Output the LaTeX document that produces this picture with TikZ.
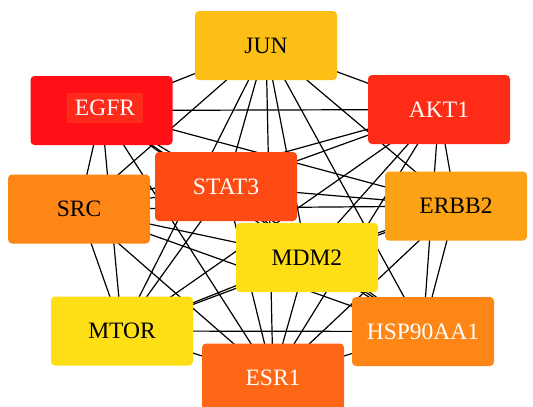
\documentclass[tikz,border=0pt]{standalone}
\usepackage{fontspec}
\setmainfont{Liberation Serif}
\usepackage{tikz}
\usetikzlibrary{backgrounds}

\definecolor{cJUN}{HTML}{FDBF16}
\definecolor{cEGFR}{HTML}{FE1016}
\definecolor{cEGFRtxt}{HTML}{FF2A1A}
\definecolor{cAKT}{HTML}{FE2C16}
\definecolor{cSTAT}{HTML}{FE4B14}
\definecolor{cSRC}{HTML}{FD8616}
\definecolor{cERBB}{HTML}{FDA214}
\definecolor{cMDM}{HTML}{FEDE15}
\definecolor{cHSP}{HTML}{FD8617}
\definecolor{cESR}{HTML}{FE6716}

\begin{document}
\begin{tikzpicture}[
  x=1pt, y=-1pt,
  gene/.style={rounded corners=4pt, minimum width=142pt, minimum height=69pt,
    inner sep=0pt, font=\fontsize{23.5}{28}\selectfont},
  link/.style={line width=1.2pt, black}
]
\useasboundingbox (0,0) rectangle (533,407);

\node[gene, fill=cJUN] (jun) at (266,45.5) {JUN};
\node[gene, fill=cEGFR] (egfr) at (101.5,110.5) {};
\node[fill=cEGFRtxt, text=white, inner sep=0pt, minimum width=76pt, minimum height=30pt,
  font=\fontsize{23.5}{28}\selectfont] (egfrtxt) at (105,108) {EGFR};
\node[gene, fill=cAKT, text=white] (akt1) at (439,109.5) {AKT1};
\node[gene, fill=cSTAT, text=white] (stat3) at (226,186.5) {STAT3};
\node[gene, fill=cSRC] (src) at (79,209) {SRC};
\node[gene, fill=cERBB] (erbb2) at (456,206) {ERBB2};
\node[gene, fill=cMDM] (mdm2) at (307,257.5) {MDM2};
\node[gene, fill=cMDM] (mtor) at (122,331) {MTOR};
\node[gene, fill=cHSP, text=white] (hsp) at (423,331.5) {HSP90AA1};
\node[gene, fill=cESR, text=white] (esr1) at (273,378) {ESR1};

\begin{scope}[on background layer]
\path[link] (jun.center) edge (egfr.center) edge (akt1.center) edge (stat3.center)
  edge (src.center) edge (erbb2.center) edge (mdm2.center) edge (mtor.center)
  edge (hsp.center) edge (esr1.center)
(egfr.center) edge (akt1.center) edge (stat3.center) edge (src.center)
  edge (erbb2.center) edge (mdm2.center) edge (mtor.center) edge (hsp.center)
  edge (esr1.center)
(akt1.center) edge (stat3.center) edge (src.center) edge (erbb2.center)
  edge (mdm2.center) edge (mtor.center) edge (hsp.center) edge (esr1.center)
(stat3.center) edge (src.center) edge (erbb2.center) edge (mdm2.center)
  edge (mtor.center) edge (hsp.center) edge (esr1.center)
(src.center) edge (erbb2.center) edge (mdm2.center) edge (mtor.center)
  edge (hsp.center) edge (esr1.center)
(erbb2.center) edge (mdm2.center) edge (mtor.center) edge (hsp.center)
  edge (esr1.center)
(mdm2.center) edge (mtor.center) edge (hsp.center) edge (esr1.center)
(mtor.center) edge (hsp.center) edge (esr1.center)
(hsp.center) edge (esr1.center)
;
\end{scope}

\end{tikzpicture}
\end{document}
